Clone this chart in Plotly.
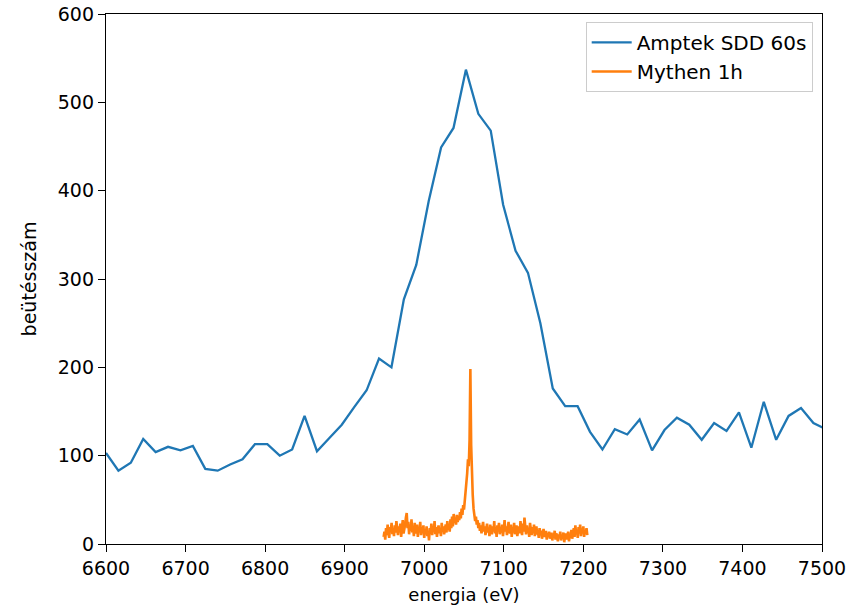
import numpy as np
import plotly.graph_objects as go

# Amptek SDD spectrum (60 s), channel energies in eV and counts
sdd_energy = [
    6600.0, 6615.6, 6631.2, 6646.8, 6662.4, 6678.0, 6693.6, 6709.2, 6724.8, 6740.4,
    6756.0, 6771.6, 6787.2, 6802.8, 6818.4, 6834.0, 6849.6, 6865.2, 6880.8, 6896.4,
    6912.0, 6927.6, 6943.2, 6958.8, 6974.4, 6990.0, 7005.6, 7021.2, 7036.8, 7052.4,
    7068.0, 7083.6, 7099.2, 7114.8, 7130.4, 7146.0, 7161.6, 7177.2, 7192.8, 7208.4,
    7224.0, 7239.6, 7255.2, 7270.8, 7286.4, 7302.0, 7317.6, 7333.2, 7348.8, 7364.4,
    7380.0, 7395.6, 7411.2, 7426.8, 7442.4, 7458.0, 7473.6, 7489.2, 7504.8,
]
sdd_counts = [
    103, 83, 92, 119, 104, 110, 106, 111, 85, 83,
    90, 96, 113, 113, 100, 107, 145, 105, 120, 135,
    155, 174, 210, 200, 277, 316, 388, 449, 471, 537,
    487, 468, 384, 332, 307, 250, 176, 156, 156, 127,
    107, 130, 124, 141, 106, 129, 143, 135, 118, 137,
    128, 149, 109, 161, 118, 145, 154, 137, 130,
]

# Mythen spectrum (1 h), 1 eV channels from 6949 eV to 7205 eV
mythen_energy = np.arange(6949, 7206, 1.0)
mythen_counts = [
    8, 14, 5, 18, 10, 22, 12, 7, 19, 15,
    24, 11, 17, 9, 21, 13, 26, 16, 10, 20,
    14, 23, 8, 18, 27, 12, 16, 22, 30, 35,
    18, 25, 11, 20, 15, 28, 13, 19, 9, 24,
    17, 12, 22, 8, 19, 14, 25, 10, 18, 13,
    21, 7, 16, 11, 20, 9, 15, 4, 18, 12,
    23, 10, 17, 14, 26, 11, 19, 8, 16, 21,
    12, 18, 9, 24, 14, 20, 11, 17, 22, 13,
    26, 16, 21, 14, 28, 18, 31, 20, 34, 24,
    29, 22, 33, 25, 30, 27, 36, 29, 40, 33,
    44, 39, 49, 56, 67, 80, 96, 88, 118, 198,
    112, 72, 55, 40, 33, 26, 31, 22, 27, 18,
    24, 15, 21, 12, 19, 25, 14, 20, 10, 17,
    23, 13, 18, 9, 22, 15, 11, 20, 14, 26,
    12, 18, 8, 21, 16, 24, 11, 19, 13, 22,
    9, 17, 27, 14, 20, 10, 18, 25, 12, 16,
    22, 8, 19, 13, 24, 11, 17, 21, 9, 15,
    20, 12, 26, 16, 10, 23, 14, 30, 18, 11,
    21, 13, 17, 8, 24, 15, 10, 19, 12, 22,
    9, 16, 20, 11, 14, 7, 18, 12, 15, 6,
    13, 17, 8, 11, 15, 5, 12, 9, 14, 6,
    10, 13, 4, 11, 8, 15, 5, 12, 9, 3,
    11, 7, 14, 4, 10, 6, 13, 2, 9, 12,
    5, 8, 14, 3, 10, 7, 16, 6, 12, 18,
    8, 21, 11, 15, 7, 19, 12, 22, 9, 17,
    13, 20, 8, 16, 11, 18, 10,
]

x_ticks = [6600, 6700, 6800, 6900, 7000, 7100, 7200, 7300, 7400, 7500]
y_ticks = [0, 100, 200, 300, 400, 500, 600]

FONT = "DejaVu Sans"

fig = go.Figure()
fig.add_trace(go.Scatter(
    x=sdd_energy, y=sdd_counts, mode="lines", name="Amptek SDD 60s",
    line=dict(color="#1f77b4", width=2.3),
))
fig.add_trace(go.Scatter(
    x=mythen_energy, y=mythen_counts, mode="lines", name="Mythen 1h",
    line=dict(color="#ff7f0e", width=2.6),
))

axis_common = dict(
    showline=True, mirror=True, linecolor="black", linewidth=1.3,
    ticks="outside", ticklen=7, tickwidth=1.3, tickcolor="black",
    showgrid=False, zeroline=False, automargin=False,
    tickfont=dict(family=FONT, size=19, color="black"),
)

fig.update_layout(
    width=867, height=605,
    margin=dict(l=106, r=45, t=14, b=61),
    paper_bgcolor="white", plot_bgcolor="white",
    font=dict(family=FONT, size=19, color="black"),
    xaxis=dict(
        range=[6600, 7500], tickvals=x_ticks, ticktext=[str(v) for v in x_ticks],
        title=dict(text="energia (eV)", font=dict(family=FONT, size=18), standoff=10),
        **axis_common,
    ),
    yaxis=dict(
        range=[0, 600], tickvals=y_ticks, ticktext=[str(v) for v in y_ticks],
        title=dict(text="beütésszám", font=dict(family=FONT, size=19), standoff=16),
        **axis_common,
    ),
    legend=dict(
        x=0.987, y=0.985, xanchor="right", yanchor="top",
        bgcolor="rgba(255,255,255,0.8)", bordercolor="#cccccc", borderwidth=1,
        font=dict(family=FONT, size=20, color="black"),
        itemwidth=40,
    ),
    showlegend=True,
)

fig.write_html("out.html")
